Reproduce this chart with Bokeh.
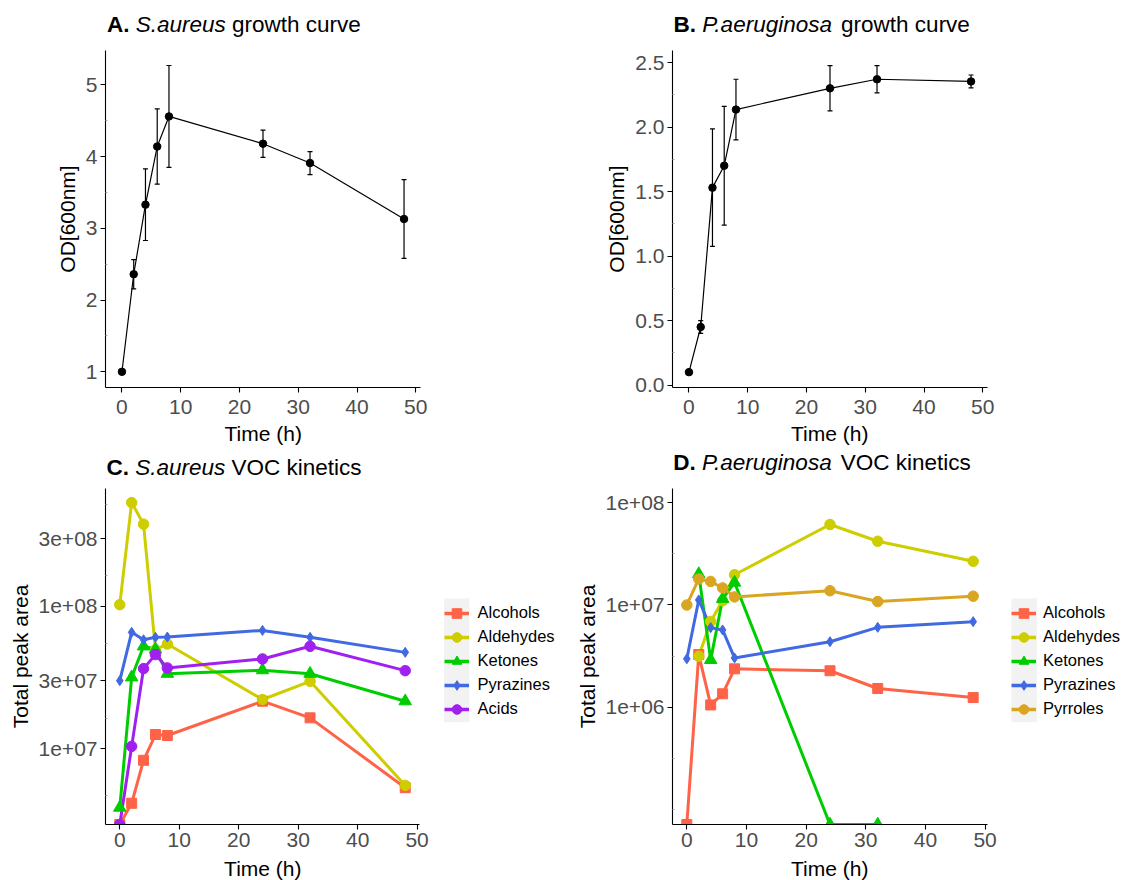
import numpy as np
from bokeh.plotting import figure
from bokeh.models import (ColumnDataSource, Whisker, TeeHead, Range1d, FixedTicker,
                          Label, Legend, LegendItem, BoxAnnotation, CustomJSTickFormatter)
from bokeh.layouts import row, column
from bokeh.embed import file_html
from bokeh.resources import INLINE

FONT = "Liberation Sans"

# ---------------- data ----------------
time_h = [0, 2, 4, 6, 8, 24, 32, 48]
x_ticks = [0, 10, 20, 30, 40, 50]

# growth curves (OD600 mean and error)
sa_od_mean = [1.00, 2.36, 3.33, 4.14, 4.56, 4.18, 3.91, 3.13]
sa_od_err = [0.0, 0.205, 0.50, 0.525, 0.71, 0.19, 0.16, 0.55]
pa_od_mean = [0.10, 0.45, 1.53, 1.70, 2.135, 2.30, 2.37, 2.353]
pa_od_err = [0.0, 0.05, 0.455, 0.46, 0.235, 0.175, 0.105, 0.05]

# S.aureus VOC kinetics (total peak area; 0 = below detection, drawn at axis floor)
sa_classes = ["Alcohols", "Aldehydes", "Ketones", "Pyrazines", "Acids"]
sa_alcohols = [0, 4.14e6, 8.3e6, 1.26e7, 1.24e7, 2.16e7, 1.65e7, 5.33e6]
sa_aldehydes = [1.03e8, 5.37e8, 3.79e8, 4.98e7, 5.45e7, 2.22e7, 2.98e7, 5.53e6]
sa_ketones = [3.86e6, 3.18e7, 5.25e7, 5.0e7, 3.37e7, 3.57e7, 3.37e7, 2.16e7]
sa_pyrazines = [3.01e7, 6.58e7, 5.84e7, 6.07e7, 6.1e7, 6.79e7, 6.07e7, 4.76e7]
sa_acids = [0, 1.04e7, 3.66e7, 4.59e7, 3.7e7, 4.28e7, 5.25e7, 3.54e7]

# P.aeruginosa VOC kinetics (nan = not measured)
nan = float("nan")
pa_classes = ["Alcohols", "Aldehydes", "Ketones", "Pyrazines", "Pyrroles"]
pa_alcohols = [0, 3.27e6, 1.05e6, 1.35e6, 2.37e6, 2.27e6, 1.52e6, 1.24e6]
pa_aldehydes = [nan, 3.15e6, 6.9e6, 1.1e7, 1.98e7, 6.14e7, 4.21e7, 2.68e7]
pa_ketones = [nan, 2.01e7, 2.9e6, 1.15e7, 1.66e7, 0, 0, nan]
pa_pyrazines = [2.97e6, 1.12e7, 6.0e6, 5.7e6, 3.03e6, 4.37e6, 6.04e6, 6.87e6]
pa_pyrroles = [1.0e7, 1.8e7, 1.7e7, 1.47e7, 1.2e7, 1.38e7, 1.08e7, 1.22e7]

sa_y_ticks = [1e7, 3e7, 1e8, 3e8]
pa_y_ticks = [1e6, 1e7, 1e8]

# ---------------- styles ----------------
colors = {"Alcohols": "#FF6347", "Aldehydes": "#CDCD00", "Ketones": "#00CD00",
          "Pyrazines": "#4169E1", "Acids": "#A020F0", "Pyrroles": "#DAA520"}
markers = {"Alcohols": ("square", 10), "Aldehydes": ("circle", 10.5), "Ketones": ("triangle", 12.5),
           "Pyrazines": ("diamond", 10), "Acids": ("circle", 10.5), "Pyrroles": ("circle", 10.5)}

exp_fmt = CustomJSTickFormatter(code="""
const s = tick.toExponential(0);
return s.replace(/e\\+(\\d)$/, 'e+0$1');
""")
fixed1_fmt = CustomJSTickFormatter(code="return tick.toFixed(1);")

TITLE_FS = 22.5
BASE_SHIFT = 0.35   # measured correction of label baseline (fraction of font size)


def strip(width, height, bottom=0, frame_h=None):
    """A blank figure used as a canvas for texts / legend outside the plot frames."""
    fh = height - bottom if frame_h is None else frame_h
    p = figure(width=width, height=height, x_range=Range1d(0, width), y_range=Range1d(0, fh),
               output_backend="svg", toolbar_location=None,
               x_axis_location=None, y_axis_location=None, min_border=0,
               min_border_bottom=bottom)
    p.outline_line_color = None
    p.xgrid.grid_line_color = None
    p.ygrid.grid_line_color = None
    p.border_fill_color = "white"
    p.background_fill_color = "white"
    return p


def add_title(p, x0, y, letter, species, rest, species_em):
    fs = TITLE_FS
    x1 = x0
    x2 = x1 + fs * (1.0 + 0.278)
    x3 = x2 + fs * (species_em + 0.278)
    for x, t, st in ((x1, letter, "bold"), (x2, species, "italic"), (x3, rest, "normal")):
        p.add_layout(Label(x=x, y=y + BASE_SHIFT * fs, text=t, text_font=FONT,
                           text_font_size=f"{fs}px", text_font_style=st, text_color="black",
                           text_baseline="alphabetic", text_align="left"))


def add_xlabel(p, xc, y):
    p.add_layout(Label(x=xc, y=y + BASE_SHIFT * 21, text="Time (h)", text_font=FONT,
                       text_font_size="21px", text_color="black",
                       text_baseline="alphabetic", text_align="center"))


def make_fig(width, left, right, frame_h, bottom, xr, yr, log=False):
    p = figure(width=width, height=frame_h + bottom,
               x_range=Range1d(*xr), y_range=Range1d(*yr),
               y_axis_type="log" if log else "linear",
               output_backend="svg", toolbar_location=None,
               min_border_left=left, min_border_right=right,
               min_border_top=0, min_border_bottom=bottom)
    p.outline_line_color = None
    p.xgrid.grid_line_color = None
    p.ygrid.grid_line_color = None
    p.background_fill_color = "white"
    p.border_fill_color = "white"
    return p


def style_axes(p, y_ticks, y_minor, x_standoff):
    p.xaxis.ticker = FixedTicker(ticks=x_ticks)
    p.yaxis.ticker = FixedTicker(ticks=y_ticks, minor_ticks=y_minor)
    for ax in (p.xaxis[0], p.yaxis[0]):
        ax.axis_line_color = "black"
        ax.axis_line_width = 1.1
        ax.major_tick_line_color = "black"
        ax.major_tick_line_width = 1.1
        ax.major_tick_in = 0
        ax.major_tick_out = 5
        ax.major_label_text_font = FONT
        ax.major_label_text_font_size = "21px"
        ax.major_label_text_color = "#4D4D4D"
        ax.axis_label_text_font = FONT
        ax.axis_label_text_font_size = "21px"
        ax.axis_label_text_font_style = "normal"
        ax.axis_label_text_color = "black"
    p.xaxis.minor_tick_line_color = None
    p.yaxis.minor_tick_line_color = "#A8A8A8"
    p.yaxis.minor_tick_in = 2
    p.yaxis.minor_tick_out = 0
    p.xaxis.major_label_standoff = x_standoff
    p.yaxis.major_label_standoff = 3
    p.yaxis.axis_label_standoff = 4


def growth_panel(width, left, right, mean, err, yr, y_ticks, y_minor, fmt):
    p = make_fig(width, left, right, 337, 36, (-2.8, 50.8), yr)
    m = np.array(mean)
    e = np.array(err)
    src = ColumnDataSource(dict(x=time_h, y=mean, upper=list(m + e), lower=list(m - e)))
    p.add_layout(Whisker(source=src, base="x", upper="upper", lower="lower",
                         line_color="black", line_width=1.2,
                         upper_head=TeeHead(size=5, line_color="black", line_width=1.2),
                         lower_head=TeeHead(size=5, line_color="black", line_width=1.2)))
    p.line("x", "y", source=src, line_color="black", line_width=1.2)
    p.scatter("x", "y", source=src, marker="circle", size=7.5, fill_color="black", line_color="black")
    style_axes(p, y_ticks, y_minor, 7)
    if fmt is not None:
        p.yaxis.formatter = fmt
    p.yaxis.axis_label = "OD[600nm]"
    return p


VOC_BOTTOM = 32


def voc_panel(width, left, right, yr, classes, series, y_ticks, y_minor):
    p = make_fig(width, left, right, 336, VOC_BOTTOM, (-2.4, 50.4), yr, log=True)
    y0 = yr[0]
    for name, vals in zip(classes, series):
        a = np.array(vals, dtype=float)
        yv = np.where(a == 0, y0, a)
        p.line(time_h, yv, line_color=colors[name], line_width=3)
    for name, vals in zip(classes, series):
        a = np.array(vals, dtype=float)
        yv = np.where(a == 0, y0, a)
        mk, sz = markers[name]
        p.scatter(time_h, yv, marker=mk, size=sz, fill_color=colors[name], line_color=colors[name])
    style_axes(p, y_ticks, y_minor, 3)
    p.yaxis.formatter = exp_fmt
    p.yaxis.axis_label = "Total peak area"
    return p


def legend_panel(width, classes, key_x, key_bottom, standoff):
    # same frame (336 px tall) and bottom border as the VOC panels it sits next to
    p = strip(width, 336 + VOC_BOTTOM, bottom=VOC_BOTTOM, frame_h=336)
    p.add_layout(BoxAnnotation(left=key_x, right=key_x + 25.5, bottom=key_bottom - 1,
                               top=key_bottom + 122.7, fill_color="#F2F2F2", fill_alpha=1.0,
                               line_color=None))
    items = []
    for name in classes:
        mk, sz = markers[name]
        # legend proxies (nan data: nothing is drawn in the frame)
        l = p.line([nan], [nan], line_color=colors[name], line_width=3.5)
        s = p.scatter([nan], [nan], marker=mk, size=sz, fill_color=colors[name], line_color=colors[name])
        items.append(LegendItem(label=name, renderers=[l, s]))
    leg = Legend(items=items, location=(key_x, key_bottom), orientation="vertical",
                 background_fill_alpha=0, border_line_color=None,
                 padding=0, margin=0, spacing=0,
                 glyph_width=25, glyph_height=24, label_height=24,
                 label_standoff=standoff, label_text_font=FONT,
                 label_text_font_size="16.5px", label_text_color="black")
    p.add_layout(leg)
    return p


# ---- titles A / B (y 0-50) ----
tA = strip(560, 50)
add_title(tA, 106.5, 17.7, "A.", "S.aureus", "growth curve", 4.002)
tB = strip(563, 50)
add_title(tB, 113.0, 17.7, "B.", "P.aeruginosa", "growth curve", 5.892)

# ---- growth curves (y 50-423) ----
pA = growth_panel(560, 105, 140, sa_od_mean, sa_od_err, (0.781, 5.479),
                  [1, 2, 3, 4, 5], [1.5, 2.5, 3.5, 4.5], None)
pB = growth_panel(563, 112, 136, pa_od_mean, pa_od_err, (-0.019, 2.593),
                  [0, 0.5, 1.0, 1.5, 2.0, 2.5], [0.25, 0.75, 1.25, 1.75, 2.25], fixed1_fmt)

# ---- x labels of A/B and titles C/D (y 423-488) ----
mA = strip(560, 65)
add_xlabel(mA, 262.7, 48)
add_title(mA, 106.0, 13.5, "C.", "S.aureus", "VOC kinetics", 4.002)
mB = strip(563, 65)
add_xlabel(mB, 269.2, 48)
add_title(mB, 112.7, 18.5, "D.", "P.aeruginosa", "VOC kinetics", 5.892)

# ---- VOC kinetics + legends (y 488-856) ----
pC = voc_panel(430, 105, 11, (10 ** 6.468, 10 ** 8.829), sa_classes,
               [sa_alcohols, sa_aldehydes, sa_ketones, sa_pyrazines, sa_acids],
               sa_y_ticks, [10 ** 6.67, 10 ** 7.21, 10 ** 7.74, 10 ** 8.22, 10 ** 8.72])
lC = legend_panel(130, sa_classes, 13.5, 103.2, 9)
pD = voc_panel(440, 112, 13, (10 ** 4.85, 10 ** 8.141), pa_classes,
               [pa_alcohols, pa_aldehydes, pa_ketones, pa_pyrazines, pa_pyrroles],
               pa_y_ticks, [1e5, 10 ** 5.5, 10 ** 6.5, 10 ** 7.5])
lD = legend_panel(123, pa_classes, 11.0, 103.2, 7)

# ---- x labels of C/D (y 856-880) ----
BOT_H = 880 - 488 - 336 - VOC_BOTTOM
bC = strip(560, BOT_H)
add_xlabel(bC, 262.3, 4.5)
bD = strip(563, BOT_H)
add_xlabel(bD, 269.2, 4.5)

layout = column(row(tA, tB, spacing=0),
                row(pA, pB, spacing=0),
                row(mA, mB, spacing=0),
                row(pC, lC, pD, lD, spacing=0),
                row(bC, bD, spacing=0),
                spacing=0)
open("out.html", "w").write(file_html(layout, INLINE))
